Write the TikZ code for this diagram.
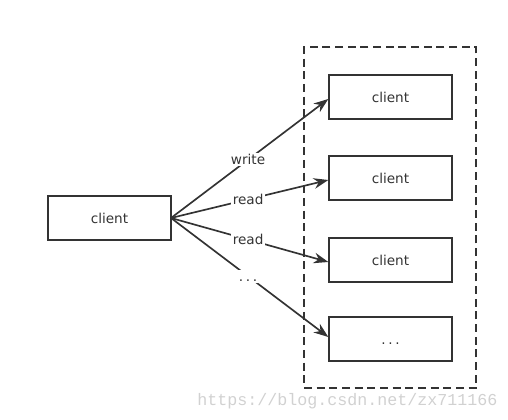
\documentclass[tikz,border=0pt]{standalone}
\usepackage{fontspec}
\setmainfont{DejaVu Sans}
\newfontfamily\wmfont{Liberation Mono}
\usetikzlibrary{arrows.meta,calc}
\definecolor{ink}{HTML}{333333}
\newcommand{\mydots}{\vphantom{read}.\hspace{2pt}.\hspace{2pt}.}
\begin{document}
\begin{tikzpicture}[x=0.75pt,y=-0.75pt,
  box/.style={draw=ink,line width=1.25pt,minimum width=92pt,minimum height=33pt,inner sep=0pt,font=\fontsize{10.2}{12}\selectfont,text=ink},
  conn/.style={draw=ink,line width=1.25pt,-{Stealth[length=11pt,width=8pt]}},
  lbl/.style={fill=white,inner sep=1pt,font=\fontsize{10.2}{12}\selectfont,text=ink}]
\useasboundingbox (0,0) rectangle (508,420);
\node[box] (c) at (109.5,218) {client};
\node[box] (s1) at (390.5,97) {client};
\node[box] (s2) at (390.5,178) {client};
\node[box] (s3) at (390.5,260) {client};
\node[box] (s4) at (390.5,339) {\mydots};
\node[draw=ink,line width=1.25pt,dash pattern=on 6pt off 3.5pt,minimum width=129pt,minimum height=255.75pt,inner sep=0pt] (grp) at (390,217.5) {};
\coordinate (o) at (171,218);
\draw[conn] (o) -- node[lbl,pos=0.49]{write} ($(s1.west)+(0,2)$);
\draw[conn] (o) -- node[lbl,pos=0.49]{read} ($(s2.west)+(0,2)$);
\draw[conn] (o) -- node[lbl,pos=0.49]{read} ($(s3.west)+(0,2)$);
\draw[conn] (o) -- node[lbl,pos=0.49]{\mydots} ($(s4.west)+(0,-2)$);
\node[anchor=west,text=black!18,font=\wmfont\fontsize{12.5}{14}\selectfont,inner sep=0pt] (wm) at (197,401) {https://blog.csdn.net/zx711166};
\end{tikzpicture}
\end{document}
